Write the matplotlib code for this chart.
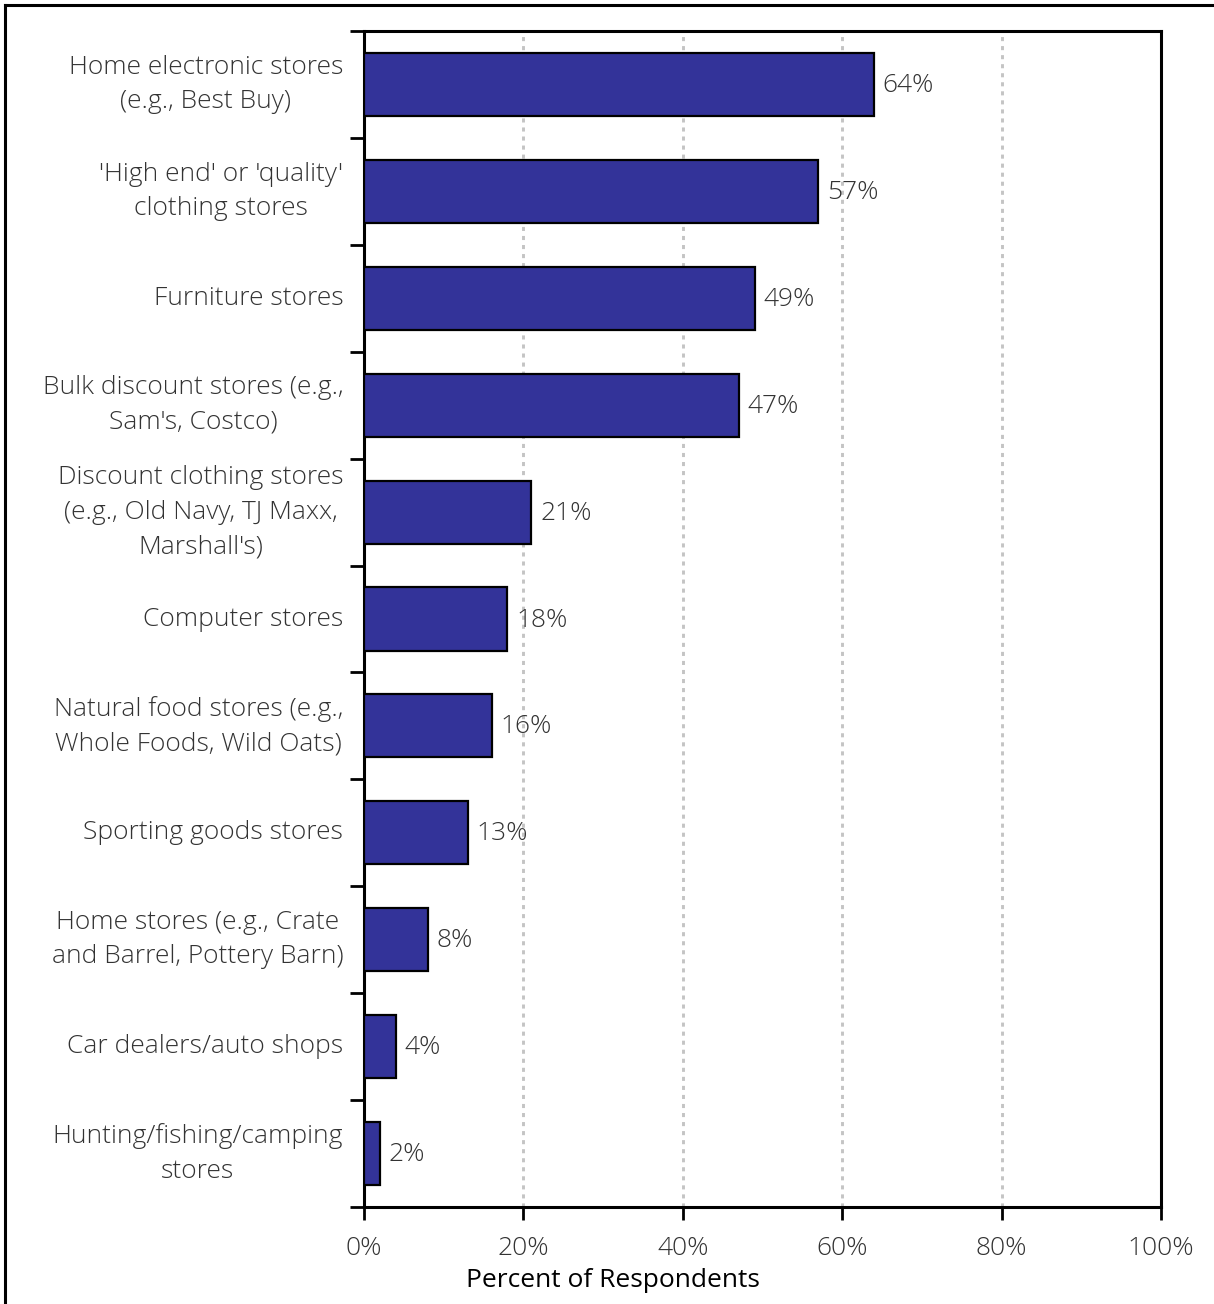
import matplotlib
matplotlib.use("Agg")
import matplotlib.pyplot as plt
from matplotlib.lines import Line2D

categories = [
    "Home electronic stores\n(e.g., Best Buy)",
    "'High end' or 'quality'\nclothing stores",
    "Furniture stores",
    "Bulk discount stores (e.g.,\nSam's, Costco)",
    "Discount clothing stores\n(e.g., Old Navy, TJ Maxx,\nMarshall's)",
    "Computer stores",
    "Natural food stores (e.g.,\nWhole Foods, Wild Oats)",
    "Sporting goods stores",
    "Home stores (e.g., Crate\nand Barrel, Pottery Barn)",
    "Car dealers/auto shops",
    "Hunting/fishing/camping\nstores",
]
values = [64, 57, 49, 47, 21, 18, 16, 13, 8, 4, 2]
x_ticks = [0, 20, 40, 60, 80, 100]
x_labels = ["0%", "20%", "40%", "60%", "80%", "100%"]

plt.rcParams['font.family'] = ['Open Sans', 'DejaVu Sans']

W, H = 1214, 1304
fig = plt.figure(figsize=(W / 100, H / 100), dpi=100)
ax = fig.add_axes([364 / W, 1 - 1207 / H, (1161 - 364) / W, (1207 - 31) / H])

n = len(categories)
ypos = list(range(n))
ax.barh(ypos, values, height=0.59, color="#333399", edgecolor="black", linewidth=1.6, zorder=3)

text_col = "#333333"
fs = 19
for y, v in zip(ypos, values):
    ax.text(v + 1.1, y + 0.01, f"{v}%", va="center", ha="left", fontsize=fs,
            fontweight="light", color=text_col, zorder=4)

ax.set_xlim(0, 100)
ax.set_ylim(n - 0.5, -0.5)

ax.set_xticks(x_ticks)
ax.set_xticklabels(x_labels, fontsize=fs, fontweight="light", color=text_col)
ax.tick_params(axis="x", direction="out", length=9, width=2, pad=12)

# category boundary ticks on the y axis, labels centered between them
ax.set_yticks([i - 0.5 for i in range(n + 1)])
ax.set_yticklabels([])
ax.tick_params(axis="y", direction="out", length=10, width=2)
ax.set_yticks(ypos, minor=True)
ax.set_yticklabels(categories, minor=True, fontsize=fs, fontweight="light",
                   color=text_col, linespacing=1.5)
ax.tick_params(axis="y", which="minor", length=0, pad=15)

for lab in ax.get_yticklabels(minor=True):
    lab.set_multialignment("center")
    lab.set_verticalalignment("center")

for x in x_ticks[1:-1]:
    ax.axvline(x, color="#c4c4c4", linestyle=(0, (1.4, 1.7)), linewidth=2.1, zorder=1)

for s in ax.spines.values():
    s.set_linewidth(2.2)
    s.set_color("black")

ax.set_xlabel("Percent of Respondents", fontsize=19, color="black")
ax.xaxis.set_label_coords((613 - 364) / (1161 - 364), -0.052)

# outer frame along the top and left edges
fig.add_artist(Line2D([5 / W, 1.0], [1 - 5 / H, 1 - 5 / H], transform=fig.transFigure,
                      color="black", linewidth=2.2))
fig.add_artist(Line2D([5 / W, 5 / W], [0.0, 1 - 5 / H], transform=fig.transFigure,
                      color="black", linewidth=2.2))

fig.savefig("out.png", dpi=100, facecolor="white")
